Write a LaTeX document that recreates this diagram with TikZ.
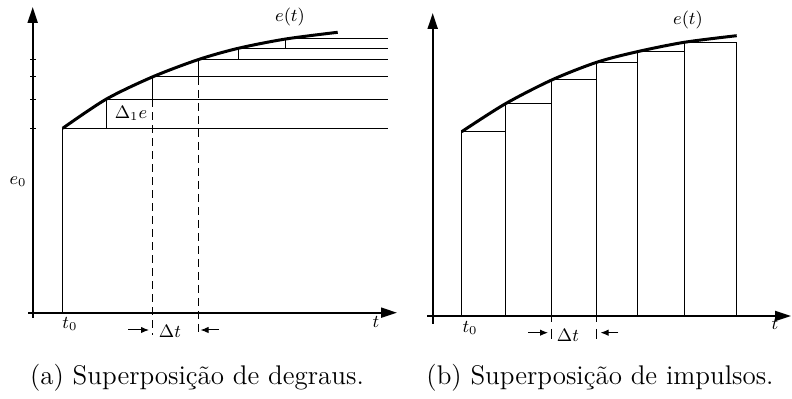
\documentclass[tikz,border=0pt]{standalone}
\usepackage{fontspec}
\usetikzlibrary{arrows.meta}
\begin{document}
\begin{tikzpicture}[x=0.5pt,y=-0.5pt,
  thinl/.style={line width=0.5pt},
  axisl/.style={line width=1pt},
  curvel/.style={line width=1.5pt},
  dashl/.style={line width=0.5pt, dash pattern=on 4pt off 2.5pt},
  lbl/.style={font=\fontsize{9}{10}\selectfont, inner sep=0pt},
  captxt/.style={font=\fontsize{13.5}{15}\selectfont, inner sep=0pt},
  dtarrow/.style={line width=0.5pt, -{Latex[length=4pt,width=3.2pt]}},
  axarrow/.style={axisl, -{Triangle[length=8pt,width=5pt]}}]
\useasboundingbox (0,0) rectangle (792,399);

% ---------- panel (a) ----------
\coordinate (A0) at (62.7,128.3);
\coordinate (A1) at (106,99.3);
\coordinate (A2) at (152.3,77);
\coordinate (A3) at (198,59.7);
\coordinate (A4) at (238.3,48.3);
\coordinate (A5) at (285.7,39);
\coordinate (A6) at (337.7,32.3);
\coordinate (RA) at (387.7,0);
\coordinate (XA) at (0,312.7);
\coordinate (DA) at (0,335);

\foreach \i in {0,...,5} \draw[thinl] (A\i) -- (A\i -| RA);
\foreach \i/\j in {1/0,2/1,3/2,4/3,5/4} \draw[thinl] (A\i) -- (A\i |- A\j);
\draw[thinl] (A0) -- (A0 |- XA);
\draw[dashl] (A2 |- A1) -- (A2 |- DA);
\draw[dashl] (A3 |- A2) -- (A3 |- DA);
\draw[curvel] plot[smooth] coordinates {(A0) (A1) (A2) (A3) (A4) (A5) (A6)};

\foreach \y in {59.5,77,99.3,128.3} \draw[thinl] (30,\y) -- (36,\y);
\draw[axarrow] (32.7,318) -- (32.7,7);
\draw[axarrow] (28,312.7) -- (397,312.7);

\node[lbl] (etA) at (290,17) {$e(t)$};
\node[lbl] (d1e) at (131,113) {$\Delta_{\textstyle\scriptstyle 1}e$};
\node[lbl] (e0) at (18,182) {$e_0$};
\node[lbl] (t0A) at (70,324) {$t_0$};
\node[lbl] (tA) at (376,322) {$t$};
\node[lbl] (dtA) at (170,331) {$\Delta t$};
\coordinate (aL1) at (128,330);
\coordinate (aL2) at (149,330);
\coordinate (aR1) at (219,330);
\coordinate (aR2) at (200.5,330);
\draw[dtarrow] (aL1) -- (aL2);
\draw[dtarrow] (aR1) -- (aR2);
\node[captxt] (capA) at (197,378) {(a) Superposição de degraus.};

% ---------- panel (b) ----------
\coordinate (B0) at (461.7,131.7);
\coordinate (B1) at (505,104);
\coordinate (B2) at (551.7,80);
\coordinate (B3) at (596.7,62.3);
\coordinate (B4) at (637.3,51.7);
\coordinate (B5) at (684.3,42.3);
\coordinate (B6) at (736.7,35.7);
\coordinate (XB) at (0,316);

\foreach \i/\j in {0/1,1/2,2/3,3/4,4/5,5/6}
  \draw[thinl] (B\i |- XB) rectangle (B\j |- B\i);
\draw[curvel] plot[smooth] coordinates {(B0) (B1) (B2) (B3) (B4) (B5) (B6)};

\draw[axarrow] (432.7,324) -- (432.7,13);
\draw[axarrow] (427,316) -- (791,316);

\foreach \x in {551.7,596.7} {
  \draw[thinl] (\x,316) -- (\x,322);
  \draw[thinl] (\x,329) -- (\x,339);
}
\node[lbl] (etB) at (688,20) {$e(t)$};
\node[lbl] (t0B) at (470,328) {$t_0$};
\node[lbl] (tB) at (775,324) {$t$};
\node[lbl] (dtB) at (568,335) {$\Delta t$};
\coordinate (bL1) at (528.3,332.7);
\coordinate (bL2) at (548,332.7);
\coordinate (bR1) at (618.3,332.7);
\coordinate (bR2) at (600.5,332.7);
\draw[dtarrow] (bL1) -- (bL2);
\draw[dtarrow] (bR1) -- (bR2);
\node[captxt] (capB) at (600,378) {(b) Superposição de impulsos.};
\end{tikzpicture}
\end{document}
